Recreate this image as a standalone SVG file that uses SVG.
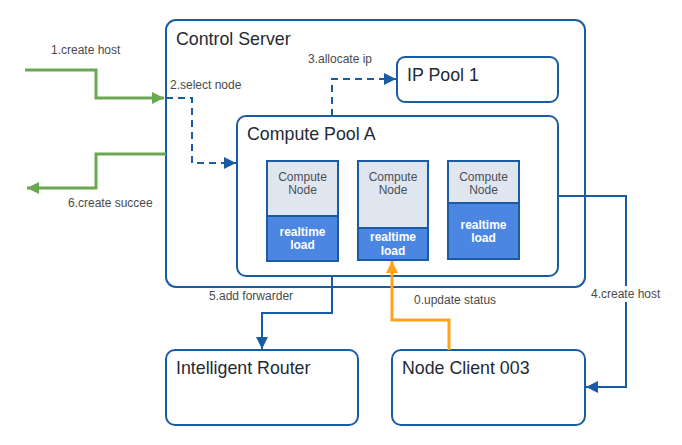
<svg xmlns="http://www.w3.org/2000/svg" width="682" height="445" viewBox="0 0 682 445">
<style>
.box{fill:#fff;stroke:#1a5ca4;stroke-width:2}
.title{font-family:"Liberation Sans",Arial,sans-serif;font-size:17.8px;fill:#1f2a36}
.lbl{font-family:"Liberation Sans",Arial,sans-serif;font-size:12px;fill:#4a4a4a}
.ntop{fill:#dfe6ef;stroke:#1a5ca4;stroke-width:2}
.nbot{fill:#4a86e2;stroke:#1a5ca4;stroke-width:2}
.ntxt{font-family:"Liberation Sans",Arial,sans-serif;font-size:12px;fill:#4a4f57;text-anchor:middle}
.nbtxt{font-family:"Liberation Sans",Arial,sans-serif;font-size:12px;font-weight:bold;fill:#fff;text-anchor:middle}
.blue{fill:none;stroke:#1a5ca4;stroke-width:2}
.dash{fill:none;stroke:#1a5ca4;stroke-width:2;stroke-dasharray:7,5}
.green{fill:none;stroke:#6aa84f;stroke-width:3}
.orange{fill:none;stroke:#ffa31a;stroke-width:3}
</style>
<defs>
<marker id="ab" markerUnits="userSpaceOnUse" markerWidth="14" markerHeight="14" viewBox="0 0 14 14" refX="13" refY="7" orient="auto">
<path d="M1,1 L13,7 L1,13 Z" fill="#1a5ca4"/>
</marker>
<marker id="ag" markerUnits="userSpaceOnUse" markerWidth="14" markerHeight="14" viewBox="0 0 14 14" refX="13" refY="7" orient="auto">
<path d="M1,1 L13,7 L1,13 Z" fill="#6aa84f"/>
</marker>
<marker id="ao" markerUnits="userSpaceOnUse" markerWidth="14" markerHeight="14" viewBox="0 0 14 14" refX="13" refY="7" orient="auto">
<path d="M1,1 L13,7 L1,13 Z" fill="#ffa31a"/>
</marker>
</defs>

<g id="control-server">
<rect class="box" x="166" y="20" width="419" height="267" rx="10"/>
<text class="title" x="176" y="45">Control Server</text>
</g>

<g id="ip-pool-1">
<rect class="box" x="397" y="57" width="161" height="45" rx="8"/>
<text class="title" x="407" y="81">IP Pool 1</text>
</g>

<g id="compute-pool-a">
<rect class="box" x="237" y="116" width="321" height="160" rx="9"/>
<text class="title" x="247" y="140">Compute Pool A</text>
</g>

<g id="compute-node-1">
<rect class="ntop" x="267" y="161" width="71" height="55"/>
<rect class="nbot" x="267" y="216" width="71" height="45"/>
<text class="ntxt" x="302.5" y="181">Compute</text>
<text class="ntxt" x="302.5" y="194">Node</text>
<text class="nbtxt" x="302.5" y="236">realtime</text>
<text class="nbtxt" x="302.5" y="249">load</text>
</g>

<g id="compute-node-2">
<rect class="ntop" x="358" y="161" width="70" height="67"/>
<rect class="nbot" x="358" y="228" width="70" height="32"/>
<text class="ntxt" x="393" y="181">Compute</text>
<text class="ntxt" x="393" y="194">Node</text>
<text class="nbtxt" x="393" y="241">realtime</text>
<text class="nbtxt" x="393" y="255">load</text>
</g>

<g id="compute-node-3">
<rect class="ntop" x="448" y="161" width="71" height="42"/>
<rect class="nbot" x="448" y="203" width="71" height="56"/>
<text class="ntxt" x="483.5" y="181">Compute</text>
<text class="ntxt" x="483.5" y="194">Node</text>
<text class="nbtxt" x="483.5" y="229">realtime</text>
<text class="nbtxt" x="483.5" y="242">load</text>
</g>

<g id="intelligent-router">
<rect class="box" x="166" y="350" width="192" height="75" rx="9"/>
<text class="title" x="176" y="374">Intelligent Router</text>
</g>

<g id="node-client-003">
<rect class="box" x="392" y="350" width="193" height="75" rx="9"/>
<text class="title" x="402" y="374">Node Client 003</text>
</g>

<g id="connectors">
<path class="green" d="M25,70 H96 V98 H164" marker-end="url(#ag)"/>
<path class="green" d="M166,154 H96 V188 H27" marker-end="url(#ag)"/>
<path class="dash" d="M166,98 H192 V163 H236" marker-end="url(#ab)"/>
<path class="dash" d="M332,116 V79 H396" marker-end="url(#ab)"/>
<path class="blue" d="M557,196 H626 V387 H586" marker-end="url(#ab)"/>
<path class="blue" d="M332,276 V313 H262 V349" marker-end="url(#ab)"/>
<path class="orange" d="M449,350 V320 H392 V261" marker-end="url(#ao)"/>
<text class="lbl" x="51" y="54">1.create host</text>
<text class="lbl" x="170" y="89">2.select node</text>
<text class="lbl" x="308" y="63">3.allocate ip</text>
<rect x="590" y="286" width="72" height="16" fill="#fff"/>
<text class="lbl" x="591" y="298">4.create host</text>
<text class="lbl" x="209" y="300">5.add forwarder</text>
<text class="lbl" x="68" y="207">6.create succee</text>
<text class="lbl" x="414" y="304">0.update status</text>
</g>
</svg>
